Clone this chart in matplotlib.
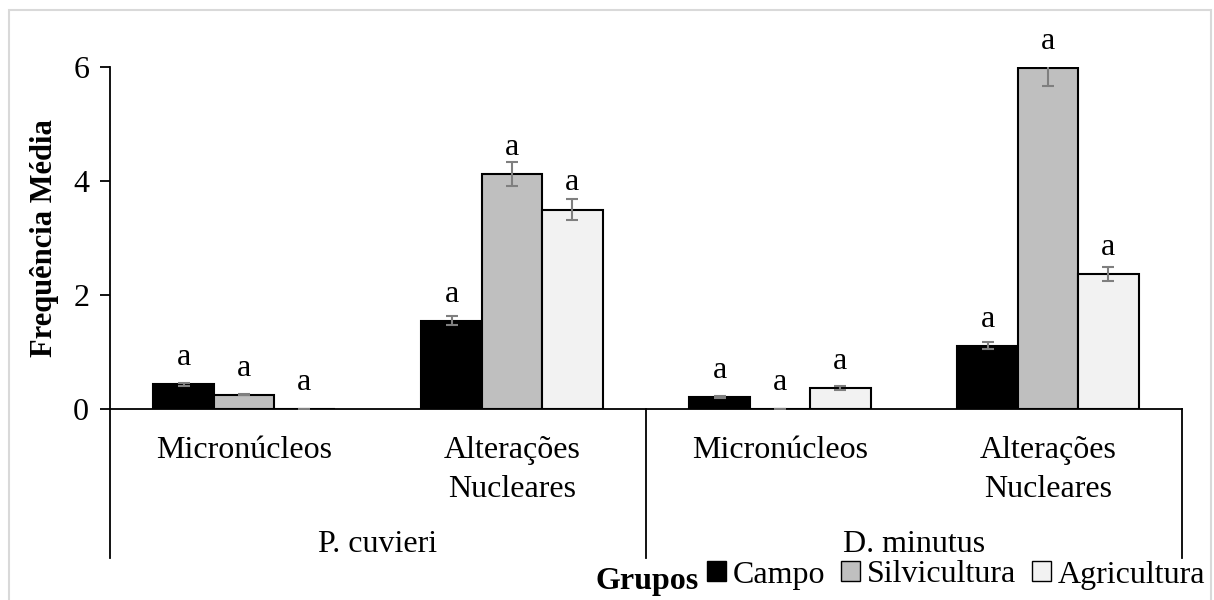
import matplotlib
matplotlib.use('Agg')
import matplotlib.pyplot as plt
import numpy as np
from matplotlib.patches import Patch, Rectangle


# dados: frequência média por espécie / parâmetro, um valor por grupo
especies = ['P. cuvieri', 'D. minutus']
parametros = ['Micronúcleos', 'Alterações\nNucleares']
grupos = ['Campo', 'Silvicultura', 'Agricultura']

campo = [0.43, 1.55, 0.21, 1.11]
campo_err = [0.03, 0.08, 0.02, 0.06]
silvicultura = [0.25, 4.12, 0.0, 5.99]
silvicultura_err = [0.01, 0.21, 0.0, 0.32]
agricultura = [0.0, 3.50, 0.37, 2.37]
agricultura_err = [0.0, 0.18, 0.03, 0.13]
letras = ['a', 'a', 'a', 'a']

y_ticks = [0, 2, 4, 6]
cores = ['#000000', '#bfbfbf', '#f2f2f2']

W, H = 1214, 600
LARGURA = 0.2257

plt.rcParams['font.family'] = ['Liberation Serif', 'DejaVu Serif']
plt.rcParams['font.size'] = 23


def main():
    fig = plt.figure(figsize=(W / 100, H / 100), dpi=100)
    ax = fig.add_axes([110 / W, 1 - 409 / H, 1072 / W, 342 / H])

    x = np.arange(len(campo))
    series = [(campo, campo_err), (silvicultura, silvicultura_err),
              (agricultura, agricultura_err)]
    for i, (vals, errs) in enumerate(series):
        pos = x + (i - 1) * LARGURA
        ax.bar(pos, vals, LARGURA, color=cores[i], edgecolor='black',
               linewidth=1.5, yerr=errs, zorder=2,
               error_kw=dict(ecolor='#7f7f7f', elinewidth=1.5,
                             capsize=4.5, capthick=1.5, zorder=3))
        for xp, v, letra in zip(pos, vals, letras):
            ax.annotate(letra, (xp, v), xytext=(0, 13.7),
                        textcoords='offset points', ha='center',
                        va='baseline', annotation_clip=False)

    ax.set_xlim(-0.5, 3.5)
    ax.set_ylim(0, 6)
    ax.set_yticks(y_ticks)
    ax.set_xticks([])
    ax.tick_params(axis='y', direction='out', length=7, width=1.3, pad=8)
    for lado in ['top', 'right', 'left']:
        ax.spines[lado].set_visible(False)
    ax.spines['bottom'].set_linewidth(1.3)

    # eixo vertical prolongado e divisões entre espécies
    fundo = -149 / 342
    ax.plot([0, 0], [1, fundo], transform=ax.transAxes, color='black',
            lw=1.3, clip_on=False)
    trans = ax.get_xaxis_transform()
    for xs in [1.5, 3.5]:
        ax.plot([xs, xs], [0, fundo], transform=trans, color='black',
                lw=1.3, clip_on=False)

    # rótulos de categoria em dois níveis
    for i, p in enumerate(parametros * len(especies)):
        ax.text(i, -27 / 342, p, transform=trans, ha='center', va='top',
                linespacing=1.45)
    for j, e in enumerate(especies):
        ax.text(2 * j + 0.5, -135 / 342, e, transform=trans,
                ha='center', va='center')

    fig.text(45 / W, 1 - 238 / H, 'Frequência Média', rotation=90,
             ha='center', va='center', fontweight='bold', fontsize=22)

    handles = [Patch(facecolor=c, edgecolor='black', linewidth=1)
               for c in cores]
    fig.legend(handles, grupos, ncol=3, loc='center left',
               bbox_to_anchor=(707 / W, 1 - 575 / H), frameon=False,
               borderpad=0, borderaxespad=0, handlelength=0.6,
               handleheight=0.6, handletextpad=0.2, columnspacing=0.5,
               fontsize=23)
    fig.text(699 / W, 1 - 582 / H, 'Grupos', ha='right', va='center',
             fontweight='bold')

    fig.add_artist(Rectangle((9 / W, -0.05), 1202 / W, 1.05 - 10 / H,
                             transform=fig.transFigure, fill=False,
                             edgecolor='#d9d9d9', linewidth=1.5))

    fig.savefig('out.png', dpi=100)


if __name__ == '__main__':
    main()
